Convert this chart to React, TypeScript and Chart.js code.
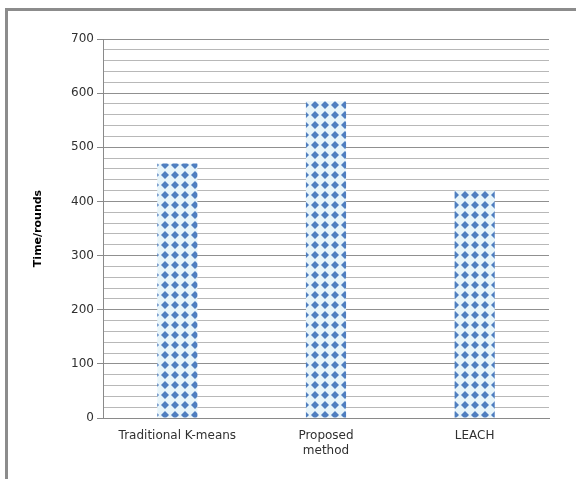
import React, { useEffect, useRef } from "react";
import { Chart, registerables } from "chart.js";

Chart.register(...registerables);

const categories: (string | string[])[] = ["Traditional K-means", ["Proposed", "method"], "LEACH"];
const values: number[] = [470, 585, 420];
const yTitle = "Time/rounds";
const yMin = 0;
const yMax = 700;
const yMinorStep = 20;
const yMajorStep = 100;

function makePattern(): CanvasPattern | string {
  const c = document.createElement("canvas");
  c.width = 10;
  c.height = 10;
  const g = c.getContext("2d");
  if (!g) return "#4f81bd";
  g.fillStyle = "#e8f5fa";
  g.fillRect(0, 0, 10, 10);
  g.fillStyle = "#4f7fc0";
  g.beginPath();
  g.moveTo(5, 1);
  g.lineTo(9, 5);
  g.lineTo(5, 9);
  g.lineTo(1, 5);
  g.closePath();
  g.fill();
  const p = g.createPattern(c, "repeat");
  return p || "#4f81bd";
}

export default function App() {
  const ref = useRef<HTMLCanvasElement>(null);
  useEffect(() => {
    if (!ref.current) return;
    const pattern = makePattern();
    const font = "'DejaVu Sans', Verdana, sans-serif";
    const chart = new Chart(ref.current, {
      type: "bar",
      data: {
        labels: categories,
        datasets: [
          {
            data: values,
            backgroundColor: pattern as any,
            borderWidth: 0,
            categoryPercentage: 1,
            barPercentage: 0.27,
          },
        ],
      },
      options: {
        animation: false,
        responsive: false,
        maintainAspectRatio: false,
        layout: { padding: { top: 39, right: 27, bottom: 0, left: 28 } },
        plugins: { legend: { display: false }, tooltip: { enabled: false } },
        scales: {
          x: {
            grid: { display: false, drawTicks: false },
            border: { display: true, color: "#8a8a8a" },
            ticks: {
              color: "#303030",
              font: { family: font, size: 12 },
              padding: 11,
              maxRotation: 0,
              autoSkip: false,
            },
            afterFit: (s: any) => {
              s.height = 61;
            },
          },
          y: {
            min: yMin,
            max: yMax,
            ticks: {
              stepSize: yMinorStep,
              autoSkip: false,
              color: "#303030",
              font: { family: font, size: 12 },
              padding: 3,
              callback: (v: any) => (Number(v) % yMajorStep === 0 ? String(v) : ""),
            },
            grid: {
              color: (ctx: any) => (ctx.tick && ctx.tick.value % yMajorStep === 0 ? "#909090" : "#b8b8b8"),
              tickColor: (ctx: any) => (ctx.tick && ctx.tick.value % yMajorStep === 0 ? "#8a8a8a" : "rgba(0,0,0,0)"),
              tickLength: 6,
              lineWidth: 1,
            },
            border: { display: true, color: "#8a8a8a" },
            title: {
              display: true,
              text: yTitle,
              color: "#000000",
              font: { family: font, size: 11, weight: "bold" },
              padding: { top: 4, bottom: 4 },
            },
            afterFit: (s: any) => {
              s.width = 75;
            },
          },
        },
      },
    });
    return () => chart.destroy();
  }, []);
  return (
    <div style={{ position: "absolute", left: 0, top: 0, width: 576, height: 479, background: "#ffffff" }}>
      <canvas ref={ref} width={576} height={479} style={{ position: "absolute", left: 0, top: 0, width: 576, height: 479 }} />
      <div style={{ position: "absolute", left: 5, top: 8, width: 571, height: 3, background: "#8c8c8c" }} />
      <div style={{ position: "absolute", left: 5, top: 8, width: 3, height: 471, background: "#8c8c8c" }} />
    </div>
  );
}
